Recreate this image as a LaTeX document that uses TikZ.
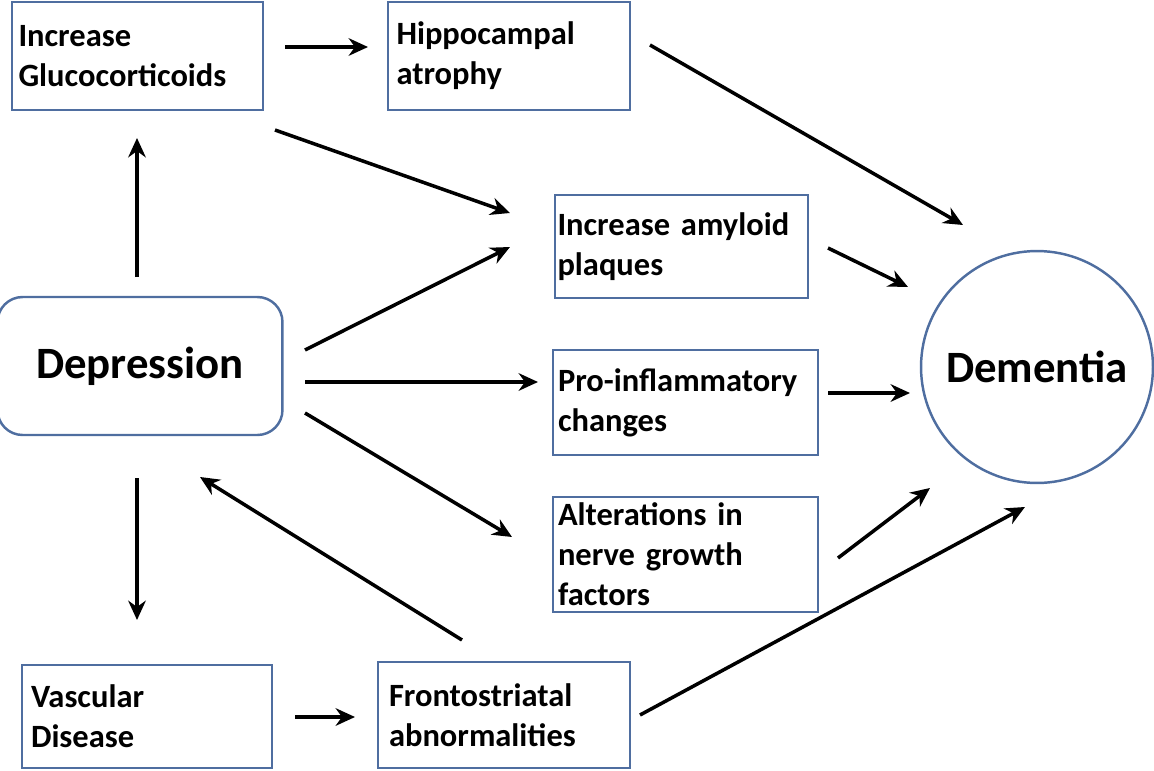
\documentclass[tikz,border=0pt]{standalone}
\usepackage{fontspec}
\setmainfont{Carlito}
\usetikzlibrary{arrows.meta}
\definecolor{boxblue}{RGB}{79,110,160}

\tikzset{
	box/.style={draw=boxblue, line width=1.4pt, rectangle, align=left,
		inner sep=0pt, font=\bfseries\fontsize{18.5}{22.8}\selectfont},
	arr/.style={-{Stealth[length=11pt,width=10pt]}, line width=2pt}
}

\begin{document}
\begin{tikzpicture}[x=0.02cm, y=-0.02cm]
	\useasboundingbox (0,0) rectangle (1154,771);
	
	% Boxes on the left and top
	\node[box, minimum width=5.02cm, minimum height=2.16cm, text width=4.76cm] (gluco) at (137.5,56) {Increase\\Glucocorticoids};
	\node[box, minimum width=4.84cm, minimum height=2.16cm, text width=4.5cm] (hippo) at (509,56) {Hippocampal\\atrophy};
	
	% Middle column boxes
	\node[box, minimum width=5.06cm, minimum height=2.06cm, text width=4.96cm] (amyloid) at (681.5,246.5) {Increase amyloid\\plaques};
	\node[box, minimum width=5.3cm, minimum height=2.1cm, text width=5.1cm] (inflam) at (685.5,402.5) {Pro-inflammatory\\changes};
	\node[box, minimum width=5.3cm, minimum height=2.3cm, text width=5.1cm] (nerve) at (685.5,554.5) {Alterations in\\nerve growth\\factors};
	
	% Bottom boxes
	\node[box, minimum width=5cm, minimum height=2.06cm, text width=4.64cm] (vasc) at (147,716.5) {Vascular\\Disease};
	\node[box, minimum width=5.04cm, minimum height=2.12cm, text width=4.6cm] (fronto) at (504,715) {Frontostriatal\\abnormalities};
	
	% Depression and Dementia
	\node[draw=boxblue, line width=1.4pt, rounded corners=0.5cm, minimum width=5.7cm, minimum height=2.76cm,
		font=\bfseries\fontsize{25.5}{30}\selectfont] (dep) at (140,366) {Depression};
	\node[draw=boxblue, line width=1.4pt, circle, minimum size=4.64cm,
		font=\bfseries\fontsize{25.5}{30}\selectfont] (dem) at (1037,367) {Dementia};
	
	% Arrow ends
	\coordinate (g1) at (285,47);   \coordinate (h1) at (368,47);
	\coordinate (h2) at (650,45);   \coordinate (d2) at (963,225);
	\coordinate (g3) at (275,130);  \coordinate (a3) at (510,213);
	\coordinate (p4) at (137,277);  \coordinate (g4) at (137,138);
	\coordinate (p5) at (305,350);  \coordinate (a5) at (510,247);
	\coordinate (p6) at (305,382);  \coordinate (i6) at (538,382);
	\coordinate (p7) at (305,413);  \coordinate (n7) at (512,537);
	\coordinate (a8) at (828,248);  \coordinate (d8) at (908,287);
	\coordinate (i9) at (828,393);  \coordinate (d9) at (910,393);
	\coordinate (n10) at (838,558); \coordinate (d10) at (930,488);
	\coordinate (p11) at (137,478); \coordinate (v11) at (137,620);
	\coordinate (f12) at (462,640); \coordinate (p12) at (200,477);
	\coordinate (v13) at (295,717); \coordinate (f13) at (355,717);
	\coordinate (f14) at (640,715); \coordinate (d14) at (1025,507);
	
	% Connectors
	\draw[arr] (g1) -- (h1);
	\draw[arr] (h2) -- (d2);
	\draw[arr] (g3) -- (a3);
	\draw[arr] (p4) -- (g4);
	\draw[arr] (p5) -- (a5);
	\draw[arr] (p6) -- (i6);
	\draw[arr] (p7) -- (n7);
	\draw[arr] (a8) -- (d8);
	\draw[arr] (i9) -- (d9);
	\draw[arr] (n10) -- (d10);
	\draw[arr] (p11) -- (v11);
	\draw[arr] (f12) -- (p12);
	\draw[arr] (v13) -- (f13);
	\draw[arr] (f14) -- (d14);
\end{tikzpicture}
\end{document}
